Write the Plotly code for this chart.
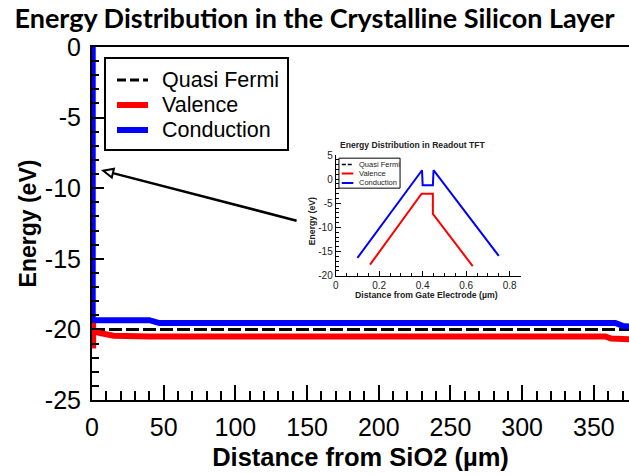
import plotly.graph_objects as go

# ---- Crystalline silicon layer band energies (eV) vs distance from SiO2 (um)
dist_cond = [0.5, 0.5, 3, 40, 47, 365, 370, 375]
e_cond = [0, -19.3, -19.35, -19.35, -19.55, -19.55, -19.75, -19.8]

dist_val = [0.8, 0.8, 0.8, 5, 15, 40, 358, 362, 375]
e_val = [-19.45, -21.35, -20.1, -20.25, -20.45, -20.5, -20.5, -20.65, -20.7]

dist_fermi = [0, 375]
e_fermi = [-20, -20]

x_ticks = [0, 50, 100, 150, 200, 250, 300, 350]
y_ticks = [0, -5, -10, -15, -20, -25]

# ---- Readout TFT band energies (eV) vs distance from gate electrode (um)
tft_dist_cond = [0.1, 0.397, 0.4, 0.447, 0.45, 0.75]
tft_e_cond = [-16.3, 1.85, -1.25, -1.25, 1.85, -15.9]

tft_dist_val = [0.158, 0.395, 0.447, 0.447, 0.63]
tft_e_val = [-17.7, -3.0, -3.0, -7.2, -18.0]

tft_x_ticks = [0, 0.2, 0.4, 0.6, 0.8]
tft_y_ticks = [5, 0, -5, -10, -15, -20]

series_names = ["Quasi Fermi", "Valence", "Conduction"]

BLUE = "#0000ff"
RED = "#ff0000"
SANS = "Liberation Sans"
INK = "#222222"


def hyphen(v):
    return f"{v:g}"


fig = go.Figure()

fig.add_trace(go.Scatter(
    x=dist_fermi, y=e_fermi, mode="lines", name=series_names[0],
    line=dict(color="black", width=3, dash="13px,4px"),
))
fig.add_trace(go.Scatter(
    x=dist_val, y=e_val, mode="lines", name=series_names[1],
    line=dict(color=RED, width=6),
))
fig.add_trace(go.Scatter(
    x=dist_cond, y=e_cond, mode="lines", name=series_names[2],
    line=dict(color=BLUE, width=6),
))

# inset traces
fig.add_trace(go.Scatter(
    x=tft_dist_val, y=tft_e_val, mode="lines", name="TFT " + series_names[1],
    line=dict(color=RED, width=2), xaxis="x2", yaxis="y2",
))
fig.add_trace(go.Scatter(
    x=tft_dist_cond, y=tft_e_cond, mode="lines", name="TFT " + series_names[2],
    line=dict(color=BLUE, width=2), xaxis="x2", yaxis="y2",
))

# inset placement (paper coordinates of the main plotting area)
INSET_X = [0.4538, 0.798]
INSET_Y = [0.352, 0.694]

fig.update_layout(
    width=629, height=475,
    margin=dict(l=92, r=0, t=47, b=75),
    paper_bgcolor="white", plot_bgcolor="white",
    showlegend=False,
    title=dict(
        text="Energy Distribution in the Crystalline Silicon Layer",
        font=dict(family="Lato", size=27, color="black", weight="bold"),
        x=0.5, xref="container", xanchor="center",
        y=1 - 19 / 475, yref="container", yanchor="middle",
    ),
    xaxis=dict(
        range=[0, 374.5], domain=[0, 1],
        tickvals=x_ticks, ticktext=[hyphen(v) for v in x_ticks],
        ticks="inside", ticklen=15, tickwidth=1.5, tickcolor="black",
        minor=dict(dtick=10, ticks="inside", ticklen=9, tickwidth=1.5, tickcolor="black"),
        showline=True, linecolor="black", linewidth=2, mirror=True,
        showgrid=False, zeroline=False, ticklabelstandoff=4,
        tickfont=dict(family=SANS, size=25, color="black"),
        title=dict(text="Distance from SiO2 (µm)", standoff=8,
                   font=dict(family=SANS, size=25.5, color="black", weight="bold")),
    ),
    yaxis=dict(
        range=[-25, 0], domain=[0, 1],
        tickvals=y_ticks, ticktext=[hyphen(v) for v in y_ticks],
        ticks="inside", ticklen=12, tickwidth=1.5, tickcolor="black",
        minor=dict(dtick=1, ticks="inside", ticklen=7, tickwidth=1.5, tickcolor="black"),
        showline=True, linecolor="black", linewidth=2,
        showgrid=False, zeroline=False, ticklabelstandoff=4,
        tickfont=dict(family=SANS, size=25, color="black"),
        title=dict(text="Energy (eV)", standoff=2,
                   font=dict(family=SANS, size=23, color="black", weight="bold")),
    ),
    xaxis2=dict(
        anchor="y2", domain=INSET_X, range=[0, 0.85],
        tickvals=tft_x_ticks, ticktext=[hyphen(v) for v in tft_x_ticks],
        ticks="inside", ticklen=5, tickwidth=1, tickcolor="black",
        minor=dict(dtick=0.05, ticks="inside", ticklen=3, tickwidth=1, tickcolor="black"),
        showline=True, linecolor="black", linewidth=1,
        showgrid=False, zeroline=False,
        tickfont=dict(family=SANS, size=10, color=INK),
    ),
    yaxis2=dict(
        anchor="x2", domain=INSET_Y, range=[-20, 5],
        tickvals=tft_y_ticks, ticktext=[hyphen(v) for v in tft_y_ticks],
        ticks="inside", ticklen=5, tickwidth=1, tickcolor="black",
        minor=dict(dtick=1, ticks="inside", ticklen=3, tickwidth=1, tickcolor="black"),
        showline=True, linecolor="black", linewidth=1,
        showgrid=False, zeroline=False,
        tickfont=dict(family=SANS, size=10, color=INK),
    ),
)

# ---- main legend
fig.add_shape(type="rect", xref="paper", yref="paper", x0=0.0242, x1=0.365,
              y0=0.7082, y1=0.9688, line=dict(color="black", width=2),
              fillcolor="white", layer="above")
legend_rows = [0.9065, 0.8357, 0.7649]
legend_styles = [dict(color="black", width=3, dash="9px,4px"),
                 dict(color=RED, width=6), dict(color=BLUE, width=6)]
for name, row, style in zip(series_names, legend_rows, legend_styles):
    fig.add_shape(type="line", xref="paper", yref="paper", x0=0.0466, x1=0.1043,
                  y0=row, y1=row, line=style, layer="above")
    fig.add_annotation(text=name, showarrow=False, xref="paper", yref="paper",
                       x=0.1266, y=row, xanchor="left", yanchor="middle",
                       font=dict(family=SANS, size=21.5, color="black"))

# ---- inset texts
fig.add_annotation(
    text="Energy Distribution in Readout TFT", showarrow=False,
    xref="x2", yref="paper", x=0.353, y=0.7224,
    xanchor="center", yanchor="middle",
    font=dict(family=SANS, size=8.6, color=INK, weight="bold"),
)
fig.add_annotation(
    text="Distance from Gate Electrode (µm)", showarrow=False,
    xref="x2", yref="paper", x=0.4175, y=0.2975,
    xanchor="center", yanchor="middle",
    font=dict(family=SANS, size=8.7, color=INK, weight="bold"),
)
fig.add_annotation(
    text="Energy (eV)", showarrow=False, textangle=-90,
    xref="paper", yref="y2", x=0.409, y=-8.8,
    xanchor="center", yanchor="middle",
    font=dict(family=SANS, size=8.7, color=INK, weight="bold"),
)

# inset legend
inset_rows = [3.04, 1.18, -0.77]
inset_styles = [dict(color="black", width=1.5, dash="4px,2px"),
                dict(color=RED, width=2), dict(color=BLUE, width=2)]
fig.add_shape(type="rect", xref="x2", yref="y2", x0=0.015, x1=0.296, y0=4.35,
              y1=-1.86, line=dict(color="black", width=1),
              fillcolor="white", layer="above")
for name, row, style in zip(series_names, inset_rows, inset_styles):
    fig.add_shape(type="line", xref="x2", yref="y2", x0=0.028, x1=0.081, y0=row, y1=row,
                  line=style, layer="above")
    fig.add_annotation(text=name, showarrow=False, xref="x2", yref="y2", x=0.098, y=row,
                       xanchor="left", yanchor="middle",
                       font=dict(family=SANS, size=7.5, color=INK))

# ---- pointer arrow with an open triangular head
tail = (142.7, -12.3)
tip = (7.9, -8.76)
head_base = (14.6, -8.93)
head_l = (13.8, -9.24)
head_r = (15.3, -8.62)
fig.add_shape(type="line", xref="x", yref="y", x0=tail[0], y0=tail[1],
              x1=head_base[0], y1=head_base[1], line=dict(color="black", width=2.5),
              layer="above")
fig.add_shape(type="path", xref="x", yref="y",
              path=f"M {tip[0]},{tip[1]} L {head_l[0]},{head_l[1]} L {head_r[0]},{head_r[1]} Z",
              line=dict(color="black", width=2), fillcolor="white", layer="above")

fig.write_html("out.html")
